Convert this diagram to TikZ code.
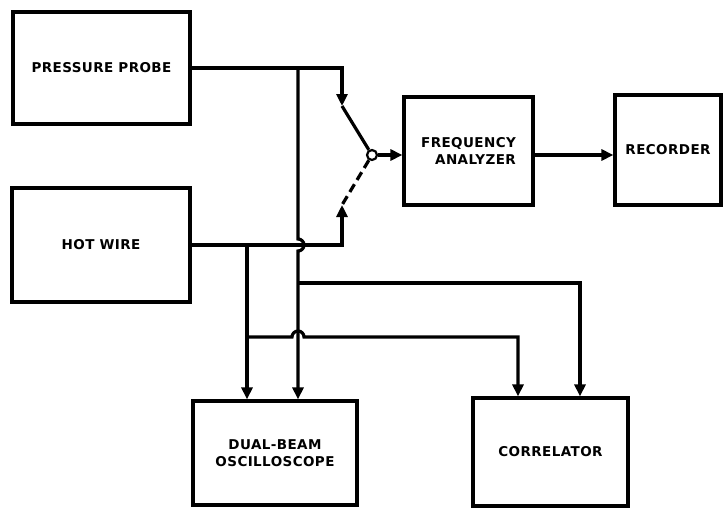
\documentclass[tikz,border=0pt]{standalone}
\usepackage{fontspec}
\setmainfont{DejaVu Sans}[LetterSpace=3]
\usetikzlibrary{arrows.meta,calc}

\tikzset{
  unit/.style={draw, line width=3.2pt, align=center, inner sep=0pt,
    font=\fontsize{13.5}{17.5}\selectfont\bfseries},
  wire/.style={line width=3.2pt},
  feed/.style={wire, -{Triangle[length=12pt,width=11pt]}},
}

\begin{document}
\begin{tikzpicture}[x=1pt, y=-1pt]
\useasboundingbox (0,0) rectangle (724,509);
% blocks
\node[unit, minimum width=177pt, minimum height=112pt] (probe) at (101.5,68) {PRESSURE PROBE};
\node[unit, minimum width=178pt, minimum height=114pt] (hot) at (101,245) {HOT WIRE};
\node[unit, minimum width=129pt, minimum height=108pt, align=right] (fa) at (468.5,151) {FREQUENCY\\ANALYZER};
\node[unit, minimum width=106pt, minimum height=110pt] (rec) at (668,150) {RECORDER};
\node[unit, minimum width=164pt, minimum height=104pt] (osc) at (275,453) {DUAL-BEAM\\OSCILLOSCOPE};
\node[unit, minimum width=155pt, minimum height=108pt] (corr) at (550.5,452) {CORRELATOR};
% switch
\node[draw, circle, line width=2.2pt, fill=white, minimum size=10pt, inner sep=0pt] (sw) at (372,155) {};
\coordinate (upc) at (342,106);
\coordinate (loc) at (342,205);
\draw[feed] (probe.east) -| (upc);
\draw[wire] (upc) -- (sw);
\draw[wire, dash pattern=on 9pt off 5pt] (sw) -- (loc);
\draw[feed] (hot.east) -| (loc);
\draw[feed] (sw) -- (fa.west |- sw);
\draw[feed] (fa.east |- sw) -- (rec.west |- sw);
% taps to oscilloscope and correlator
\coordinate (busP) at (298,0);
\coordinate (busH) at (247,0);
\coordinate (inA) at (518,0);
\coordinate (inB) at (580,0);
\draw[feed] (busP |- probe.east) -- (298,239) arc[start angle=90, end angle=-90, radius=6pt]
  -- (busP |- osc.north);
\draw[feed] (busH |- hot.east) -- (busH |- osc.north);
\draw[feed] (298,283) -| (inB |- corr.north);
\draw[feed] (247,337) -- (292,337) arc[start angle=180, end angle=0, radius=6pt]
  -| (inA |- corr.north);
\end{tikzpicture}
\end{document}
